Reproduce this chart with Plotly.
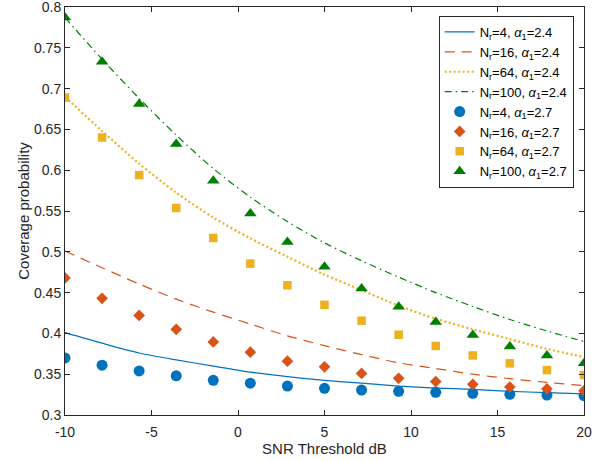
import plotly.graph_objects as go

# SNR threshold (dB) sample points
snr_db = [-10, -7.857, -5.714, -3.571, -1.429, 0.714, 2.857, 5.0,
          7.143, 9.286, 11.429, 13.571, 15.714, 17.857, 20]

# Analytical curves, alpha_1 = 2.4
line_nr4 = [0.401, 0.388, 0.376, 0.3675, 0.360, 0.3525, 0.347, 0.3425,
            0.339, 0.3355, 0.333, 0.3315, 0.329, 0.3275, 0.326]
line_nr16 = [0.501, 0.4805, 0.4605, 0.442, 0.426, 0.4115, 0.397, 0.385,
             0.374, 0.364, 0.357, 0.350, 0.3445, 0.340, 0.336]
line_nr64 = [0.690, 0.648, 0.608, 0.5725, 0.542, 0.5165, 0.494, 0.472,
             0.453, 0.434, 0.418, 0.405, 0.393, 0.381, 0.371]
line_nr100 = [0.787, 0.736, 0.688, 0.643, 0.602, 0.567, 0.537, 0.511,
              0.489, 0.469, 0.450, 0.433, 0.417, 0.403, 0.390]

# Simulated points, alpha_1 = 2.7
pts_nr4 = [0.370, 0.361, 0.354, 0.348, 0.3425, 0.339, 0.3355, 0.3327,
           0.3306, 0.329, 0.3278, 0.3266, 0.3254, 0.3245, 0.3237]
pts_nr16 = [0.468, 0.443, 0.422, 0.405, 0.3895, 0.377, 0.366, 0.359,
            0.351, 0.345, 0.341, 0.3376, 0.3343, 0.3319, 0.3298]
pts_nr64 = [0.689, 0.640, 0.594, 0.5537, 0.517, 0.4855, 0.459, 0.435,
            0.4156, 0.3984, 0.3846, 0.373, 0.3633, 0.355, 0.349]
pts_nr100 = [0.787, 0.733, 0.681, 0.632, 0.587, 0.547, 0.512, 0.4818,
             0.455, 0.4327, 0.414, 0.398, 0.384, 0.373, 0.3633]

line_names = ["N<sub>r</sub>=4, <i>α</i><sub>1</sub>=2.4",
              "N<sub>r</sub>=16, <i>α</i><sub>1</sub>=2.4",
              "N<sub>r</sub>=64, <i>α</i><sub>1</sub>=2.4",
              "N<sub>r</sub>=100, <i>α</i><sub>1</sub>=2.4"]
pt_names = ["N<sub>r</sub>=4, <i>α</i><sub>1</sub>=2.7",
            "N<sub>r</sub>=16, <i>α</i><sub>1</sub>=2.7",
            "N<sub>r</sub>=64, <i>α</i><sub>1</sub>=2.7",
            "N<sub>r</sub>=100, <i>α</i><sub>1</sub>=2.7"]

x_tickvals = [-10, -5, 0, 5, 10, 15, 20]
x_ticktext = ["-10", "-5", "0", "5", "10", "15", "20"]
y_tickvals = [0.3, 0.35, 0.4, 0.45, 0.5, 0.55, 0.6, 0.65, 0.7, 0.75, 0.8]
y_ticktext = ["0.3", "0.35", "0.4", "0.45", "0.5", "0.55", "0.6", "0.65", "0.7", "0.75", "0.8"]

blue = "#0072BD"
orange = "#D95319"
yellow = "#EDB120"
green = "#008000"

fig = go.Figure()

line_styles = [
    (line_nr4, blue, "solid", 1.2),
    (line_nr16, orange, "10px,7px", 1.2),
    (line_nr64, yellow, "2px,2.5px", 2.2),
    (line_nr100, green, "7px,4px,1.5px,4px", 1.2),
]
for i, ((vals, col, dash, w), name) in enumerate(zip(line_styles, line_names)):
    fig.add_trace(go.Scatter(x=snr_db, y=vals, mode="lines", name=name, legendgroup=f"l{i}",
                             line=dict(color=col, dash=dash, width=w, shape="spline", smoothing=0.8)))

pt_styles = [
    (pts_nr4, blue, "circle", 11),
    (pts_nr16, orange, "diamond", 9),
    (pts_nr64, yellow, "square", 8.5),
    (pts_nr100, green, "triangle-up", 11),
]
for i, ((vals, col, sym, sz), name) in enumerate(zip(pt_styles, pt_names)):
    fig.add_trace(go.Scatter(x=snr_db, y=vals, mode="markers", name=name, legendgroup=f"p{i}",
                             marker=dict(color=col, symbol=sym, size=sz, line=dict(width=0))))

axis_col = "#262626"
fig.update_layout(
    width=607, height=461,
    margin=dict(l=65, r=23, t=7, b=46),
    paper_bgcolor="white", plot_bgcolor="white",
    font=dict(family="Liberation Sans, Arial, sans-serif", size=14, color=axis_col),
    showlegend=True,
    legend=dict(x=0.72, y=0.978, xanchor="left", yanchor="top",
                bgcolor="white", bordercolor=axis_col, borderwidth=1,
                font=dict(size=13, color="#000000"), tracegroupgap=0),
    xaxis=dict(range=[-10, 20], tickvals=x_tickvals, ticktext=x_ticktext,
               ticks="inside", ticklen=5, tickcolor=axis_col, showline=True,
               linecolor=axis_col, linewidth=1, mirror="ticks", showgrid=False,
               zeroline=False, automargin=False, ticklabeloverflow="allow",
               ticklabelstandoff=4,
               title=dict(text="SNR Threshold dB", font=dict(size=15), standoff=2),
               tickfont=dict(size=14)),
    yaxis=dict(range=[0.3, 0.8], tickvals=y_tickvals, ticktext=y_ticktext,
               ticks="inside", ticklen=5, tickcolor=axis_col, showline=True,
               linecolor=axis_col, linewidth=1, mirror="ticks", showgrid=False,
               zeroline=False, automargin=False, ticklabeloverflow="allow",
               title=dict(text="Coverage probability", font=dict(size=15), standoff=0),
               tickfont=dict(size=14)),
)

fig.write_html("out.html", config={"displayModeBar": False},
               post_script="document.body.style.margin='0';document.body.style.overflow='hidden';")
